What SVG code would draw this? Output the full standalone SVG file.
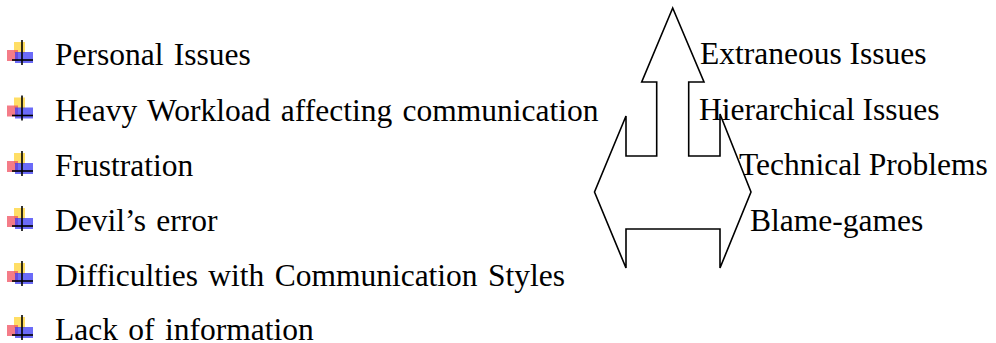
<svg xmlns="http://www.w3.org/2000/svg" width="996" height="343" viewBox="0 0 996 343">
<style>
text{font-family:"Liberation Serif","Times New Roman",serif;font-size:31.5px;fill:#000}
.ll text{word-spacing:2.5px}
.arrow{fill:#fff;stroke:#000;stroke-width:1.6;stroke-linejoin:miter}
.bl{stroke:#000;stroke-width:1.6}
</style>
<defs>
<g id="bullet">
<rect x="14" y="42" width="11" height="11" fill="#ffd84a" opacity="0.85"/>
<rect x="7" y="50" width="11" height="11" fill="#f05060" opacity="0.75"/>
<rect x="15" y="52" width="18" height="11" fill="#3a3af5" opacity="0.75"/>
<line class="bl" x1="22" y1="40" x2="22" y2="65"/>
<line class="bl" x1="12" y1="60" x2="33" y2="60"/>
</g>
</defs>
<rect width="996" height="343" fill="#fff"/>
<g id="arrow-shape">
<path class="arrow" d="M672.7,8 L704,82 L688.7,82 L688.7,156 L720,156 L720,114 L751,192 L720,268 L720,229 L626,229 L626,268 L594.5,192 L626,116 L626,156 L656.7,156 L656.7,82 L641.7,82 Z"/>
</g>
<g id="left-list" class="ll">
<g id="item1"><use href="#bullet"/><text x="55" y="65">Personal Issues</text></g>
<g id="item2"><use href="#bullet" y="55.5"/><text x="55" y="120.5">Heavy Workload affecting communication</text></g>
<g id="item3"><use href="#bullet" y="111"/><text x="55" y="176">Frustration</text></g>
<g id="item4"><use href="#bullet" y="166"/><text x="55" y="231">Devil’s error</text></g>
<g id="item5"><use href="#bullet" y="221"/><text x="55" y="286">Difficulties with Communication Styles</text></g>
<g id="item6"><use href="#bullet" y="275"/><text x="55" y="340">Lack of information</text></g>
</g>
<g id="right-list">
<text id="r1" x="700" y="64">Extraneous Issues</text>
<text id="r2" x="699" y="120">Hierarchical Issues</text>
<text id="r3" x="739" y="175">Technical Problems</text>
<text id="r4" x="750" y="230.5">Blame-games</text>
</g>
</svg>
